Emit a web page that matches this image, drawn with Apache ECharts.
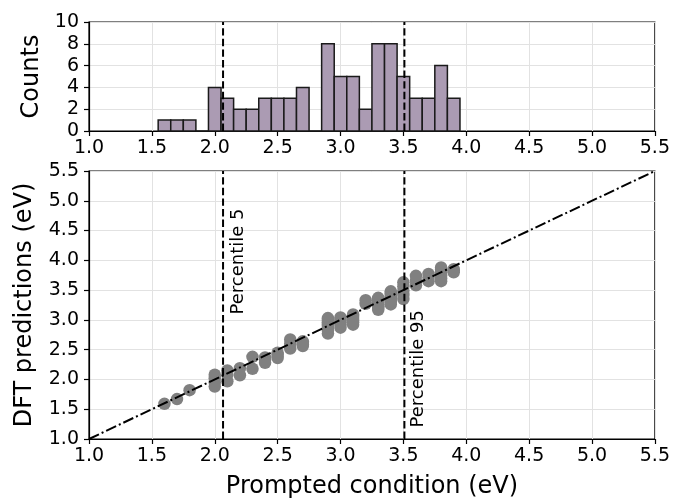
<!DOCTYPE html>
<html>
<head>
<meta charset="utf-8">
<script src="https://cdn.jsdelivr.net/npm/echarts@6/dist/echarts.min.js"></script>
<style>
  html, body { margin: 0; padding: 0; background: #fff; }
  #chart { width: 673px; height: 504px; }
</style>
</head>
<body>
<div id="chart"></div>
<script>
// histogram bins (left edges, width 0.1) and counts
const binLefts = [1.55, 1.65, 1.75, 1.85, 1.95, 2.05, 2.15, 2.25, 2.35, 2.45, 2.55, 2.65, 2.75,
  2.85, 2.95, 3.05, 3.15, 3.25, 3.35, 3.45, 3.55, 3.65, 3.75, 3.85];
const binCounts = [1, 1, 1, 0, 4, 3, 2, 2, 3, 3, 3, 4, 0, 8, 5, 5, 2, 8, 8, 5, 3, 3, 6, 3];
const binWidth = 0.1;

// prompted condition values and the DFT predictions for each
const conditions = [1.6, 1.7, 1.8, 2.0, 2.1, 2.2, 2.3, 2.4, 2.5, 2.6, 2.7,
  2.9, 3.0, 3.1, 3.2, 3.3, 3.4, 3.5, 3.6, 3.7, 3.8, 3.9];
const dftPredictions = [
  [1.59],
  [1.67],
  [1.82],
  [1.88, 1.95, 2.02, 2.08],
  [1.97, 2.08, 2.15],
  [2.07, 2.19],
  [2.18, 2.38],
  [2.28, 2.33, 2.37],
  [2.36, 2.41, 2.45],
  [2.52, 2.60, 2.67],
  [2.56, 2.59, 2.62, 2.64],
  [2.77, 2.82, 2.86, 2.90, 2.93, 2.96, 3.00, 3.03],
  [2.87, 2.92, 2.96, 3.00, 3.04],
  [2.92, 2.96, 3.00, 3.05, 3.09],
  [3.27, 3.33],
  [3.17, 3.20, 3.23, 3.26, 3.29, 3.32, 3.35, 3.37],
  [3.26, 3.30, 3.33, 3.36, 3.39, 3.42, 3.45, 3.48],
  [3.35, 3.42, 3.49, 3.56, 3.63],
  [3.58, 3.66, 3.74],
  [3.65, 3.71, 3.77],
  [3.65, 3.70, 3.75, 3.80, 3.84, 3.88],
  [3.80, 3.83, 3.85]
];

const p5 = 2.066;
const p95 = 3.508;
const axisMin = 1.0;
const axisMax = 5.5;

const histData = binLefts.map((x, i) => [x, x + binWidth, binCounts[i]]);
const scatterData = [];
conditions.forEach((c, i) => {
  dftPredictions[i].forEach(v => scatterData.push([c, v]));
});

const font = 'DejaVu Sans';
const tickStyle = { fontSize: 19, color: '#000', fontFamily: font };
const gridLine = { show: true, lineStyle: { color: '#e2e2e2', width: 1 } };
const axisLine = { show: true, onZero: false, lineStyle: { color: '#000', width: 1.2 } };
const axisTick = { show: true, length: 5, lineStyle: { color: '#000', width: 1.2 } };
const dashed = { color: '#000', width: 2, type: [7.4, 3.2] };

const chart = echarts.init(document.getElementById('chart'));
chart.setOption({
  animation: false,
  backgroundColor: '#fff',
  grid: [
    { left: 89, top: 22, width: 567, height: 109, show: true, borderColor: '#000', borderWidth: 1.2 },
    { left: 89, top: 171, width: 567, height: 271, show: true, borderColor: '#000', borderWidth: 1.2 }
  ],
  xAxis: [
    {
      gridIndex: 0, type: 'value', min: axisMin, max: axisMax, interval: 0.5,
      axisLine, axisTick, splitLine: gridLine,
      axisLabel: Object.assign({ margin: 8, formatter: v => v.toFixed(1) }, tickStyle)
    },
    {
      gridIndex: 1, type: 'value', min: axisMin, max: axisMax, interval: 0.5,
      axisLine, axisTick, splitLine: gridLine,
      axisLabel: Object.assign({ margin: 8, formatter: v => v.toFixed(1) }, tickStyle),
      name: 'Prompted condition (eV)', nameLocation: 'middle', nameGap: 36,
      nameTextStyle: { fontSize: 24, color: '#000', fontFamily: font }
    }
  ],
  yAxis: [
    {
      gridIndex: 0, type: 'value', min: 0, max: 10, interval: 2,
      axisLine, axisTick, splitLine: gridLine,
      axisLabel: Object.assign({ margin: 10 }, tickStyle),
      name: 'Counts', nameLocation: 'middle', nameGap: 45,
      nameTextStyle: { fontSize: 24, color: '#000', fontFamily: font }
    },
    {
      gridIndex: 1, type: 'value', min: axisMin, max: axisMax, interval: 0.5,
      axisLine, axisTick, splitLine: gridLine,
      axisLabel: Object.assign({ margin: 10, formatter: v => v.toFixed(1) }, tickStyle),
      name: 'DFT predictions (eV)', nameLocation: 'middle', nameGap: 52,
      nameTextStyle: { fontSize: 24, color: '#000', fontFamily: font }
    }
  ],
  series: [
    {
      type: 'custom',
      xAxisIndex: 0, yAxisIndex: 0,
      data: histData,
      encode: { x: [0, 1], y: 2 },
      renderItem: (params, api) => {
        const a = api.coord([api.value(0), api.value(2)]);
        const b = api.coord([api.value(1), 0]);
        return {
          type: 'rect',
          shape: { x: a[0], y: a[1], width: b[0] - a[0], height: b[1] - a[1] },
          style: { fill: '#ab9bb3', stroke: '#1a1a1a', lineWidth: 1.5 }
        };
      }
    },
    {
      type: 'line', xAxisIndex: 0, yAxisIndex: 0,
      data: [[p5, 0], [p5, 10]], showSymbol: false, lineStyle: dashed
    },
    {
      type: 'line', xAxisIndex: 0, yAxisIndex: 0,
      data: [[p95, 0], [p95, 10]], showSymbol: false, lineStyle: dashed
    },
    {
      type: 'scatter', xAxisIndex: 1, yAxisIndex: 1,
      data: scatterData, symbolSize: 12.5,
      itemStyle: { color: '#808080', opacity: 1 }
    },
    {
      type: 'line', xAxisIndex: 1, yAxisIndex: 1,
      data: [[axisMin, axisMin], [axisMax, axisMax]], showSymbol: false,
      lineStyle: { color: '#000', width: 2, type: [11, 3, 2, 3] }
    },
    {
      type: 'line', xAxisIndex: 1, yAxisIndex: 1,
      data: [[p5, axisMin], [p5, axisMax]], showSymbol: false, lineStyle: dashed
    },
    {
      type: 'line', xAxisIndex: 1, yAxisIndex: 1,
      data: [[p95, axisMin], [p95, axisMax]], showSymbol: false, lineStyle: dashed
    },
    {
      type: 'scatter', xAxisIndex: 1, yAxisIndex: 1,
      data: [
        { value: [2.19, 3.98], label: { formatter: 'Percentile 5' } },
        { value: [3.62, 2.18], label: { formatter: 'Percentile 95' } }
      ],
      symbolSize: 1,
      itemStyle: { color: 'rgba(0,0,0,0)' },
      label: {
        show: true, position: 'inside', rotate: 90,
        fontSize: 18, color: '#000', fontFamily: font,
        textBorderWidth: 0, opacity: 1
      }
    }
  ]
});
</script>
</body>
</html>
